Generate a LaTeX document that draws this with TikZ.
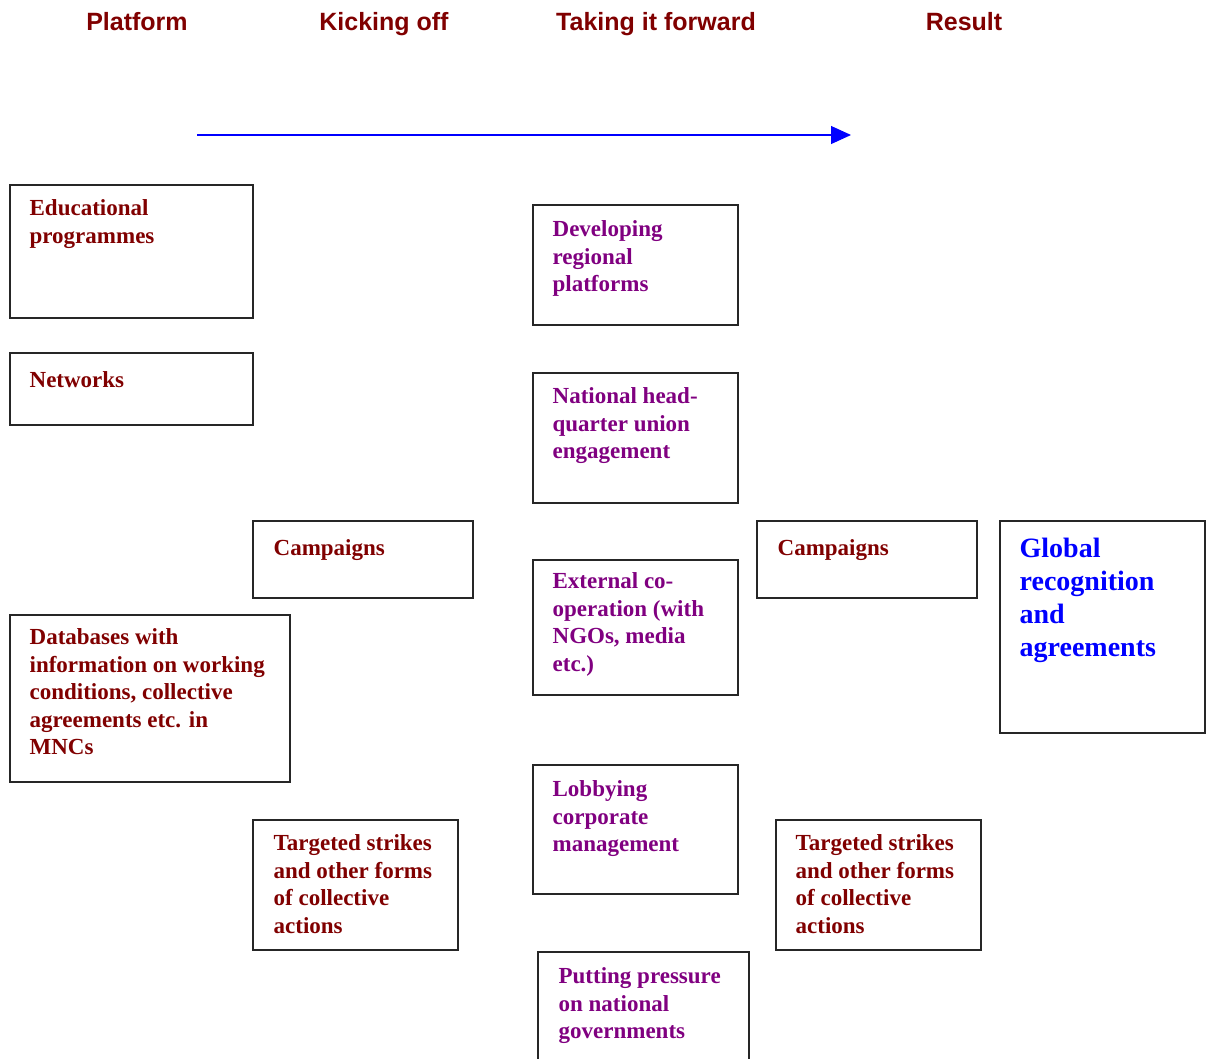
\documentclass[tikz,border=0pt]{standalone}
\usepackage{fontspec}
\setmainfont{Liberation Serif}
\newfontfamily\headfont{Liberation Sans}
\usetikzlibrary{arrows.meta,calc}
\definecolor{darkred}{HTML}{800000}
\definecolor{plum}{HTML}{800080}
\definecolor{brightblue}{HTML}{0000FF}
\begin{document}
\begin{tikzpicture}[x=1pt,y=-1pt,
  heading/.style={font=\headfont\fontsize{25}{30}\selectfont\bfseries, text=darkred, inner sep=0pt, anchor=base},
  box/.style={draw=black!85, line width=1.1pt, inner sep=0pt},
  boxtext/.style={anchor=north west, inner sep=0pt, align=left,
    font=\fontsize{23}{27.5}\selectfont\bfseries},
  redtext/.style={boxtext, text=darkred},
  purpletext/.style={boxtext, text=plum},
  bluetext/.style={anchor=north west, inner sep=0pt, align=left,
    font=\fontsize{28}{33}\selectfont\bfseries, text=brightblue},
  flow/.style={draw=brightblue, line width=1.1pt, -{Triangle[length=20pt,width=18pt]}}
]
\useasboundingbox (0,0) rectangle (1207,1058);

% column headings, sharing one baseline
\node[heading] (hplat) at (137,30) {Platform};
\node[heading] (hkick) at (384,30) {Kicking off};
\node[heading] (hfwd)  at (656,30) {Taking it forward};
\node[heading] (hres)  at (964,30) {Result};

% time arrow
\coordinate (arrS) at (197,135);
\coordinate (arrE) at (851,135);
\draw[flow] (arrS) -- (arrE);

% frames: \node at centre with fixed size
\newcommand{\frm}[5]{%
  \node[box, minimum width={(#4)-(#2)}, minimum height={(#5)-(#3)}] (#1)
    at ({((#2)+(#4))/2},{((#3)+(#5))/2}) {};}

\frm{edu}{10}{185}{253}{318}
\frm{net}{10}{353}{253}{425}
\frm{campA}{253}{521}{473}{598}
\frm{db}{10}{615}{290}{782}
\frm{strA}{253}{820}{458}{950}
\frm{reg}{533}{205}{738}{325}
\frm{hq}{533}{373}{738}{503}
\frm{ext}{533}{560}{738}{695}
\frm{lob}{533}{765}{738}{894}
\frm{gov}{538}{952}{749}{1075}
\frm{campB}{757}{521}{977}{598}
\frm{strB}{776}{820}{981}{950}
\frm{glob}{1000}{521}{1205}{733}

% platform column
\node[redtext] (tedu) at ($(edu.north west)+(20,15)$) {Educational\\programmes};
\node[redtext] (tnet) at ($(net.north west)+(20,19)$) {Networks};
\node[redtext] (tdb)  at ($(db.north west)+(20,14)$)
  {Databases with\\information on working\\conditions, collective\\agreements etc. in\\MNCs};

% kicking off column
\node[redtext] (tcampA) at ($(campA.north west)+(21,19)$) {Campaigns};
\node[redtext] (tstrA)  at ($(strA.north west)+(21,15)$)
  {Targeted strikes\\and other forms\\of collective\\actions};

% taking it forward column
\node[purpletext] (treg) at ($(reg.north west)+(20,16)$) {Developing\\regional\\platforms};
\node[purpletext] (thq)  at ($(hq.north west)+(20,15)$) {National head-\\quarter union\\engagement};
\node[purpletext] (text) at ($(ext.north west)+(20,13)$) {External co-\\operation (with\\NGOs, media\\etc.)};
\node[purpletext] (tlob) at ($(lob.north west)+(20,16)$) {Lobbying\\corporate\\management};
\node[purpletext] (tgov) at ($(gov.north west)+(21,16)$) {Putting pressure\\on national\\governments};

% result column
\node[redtext] (tcampB) at ($(campB.north west)+(21,19)$) {Campaigns};
\node[redtext] (tstrB)  at ($(strB.north west)+(20,15)$)
  {Targeted strikes\\and other forms\\of collective\\actions};
\node[bluetext] (tglob) at ($(glob.north west)+(20,17)$)
  {Global\\recognition\\and\\agreements};
\end{tikzpicture}
\end{document}
